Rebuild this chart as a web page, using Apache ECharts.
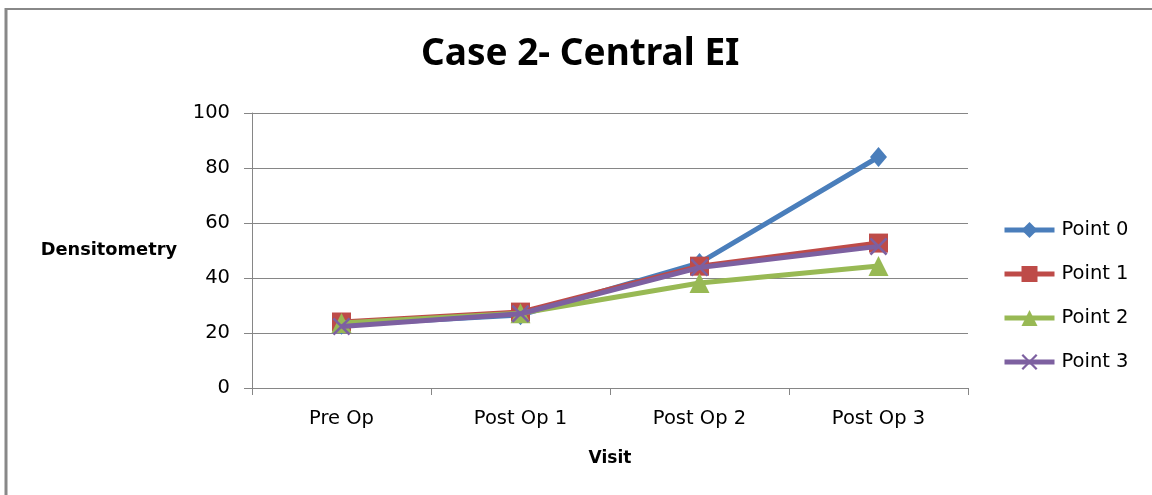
<!DOCTYPE html>
<html>
<head>
<meta charset="utf-8">
<script src="https://cdn.jsdelivr.net/npm/echarts@6/dist/echarts.min.js"></script>
<style>
  html, body { margin: 0; padding: 0; background: #fff; }
  #chart { width: 1152px; height: 495px; }
</style>
</head>
<body>
<div id="chart"></div>
<script>
// Visits along the x axis
const visits = ['Pre Op', 'Post Op 1', 'Post Op 2', 'Post Op 3'];

// Densitometry readings per measurement point
const point0 = [23, 26.5, 45.5, 84];
const point1 = [24, 27.6, 44.3, 52.7];
const point2 = [23.6, 27.2, 38.2, 44.4];
const point3 = [22.4, 27, 43.8, 51.5];

const seriesNames = ['Point 0', 'Point 1', 'Point 2', 'Point 3'];

// y axis range
const yMin = 0, yMax = 100, yStep = 20;

const colors = ['#4A7EBB', '#BE4B48', '#98B954', '#7D60A0'];

// Thin "x" marker as a filled outline
const crossPath = 'path://M0,1 L1,0 L5,4 L9,0 L10,1 L6,5 L10,9 L9,10 L5,6 L1,10 L0,9 L4,5 Z';

const symbols = ['diamond', 'rect', 'triangle', crossPath];
const symbolSizes = [[17, 20], 19, 20, 18];
const dataSets = [point0, point1, point2, point3];

const chart = echarts.init(document.getElementById('chart'));

const tickFont = { fontFamily: 'DejaVu Sans', fontSize: 19.5, color: '#000' };

chart.setOption({
  animation: false,
  backgroundColor: '#fff',
  color: colors,
  title: {
    text: 'Case 2- Central EI',
    left: 416,
    top: 31,
    textStyle: { fontFamily: 'Noto Sans', fontWeight: 'bold', fontSize: 37, color: '#000' }
  },
  legend: {
    orient: 'vertical',
    left: 997,
    top: 215,
    itemWidth: 50,
    itemHeight: 20,
    itemGap: 24,
    data: seriesNames.map((n, i) => ({
      name: n,
      lineStyle: { width: 5, color: colors[i] },
      itemStyle: { color: colors[i] }
    })),
    textStyle: Object.assign({}, tickFont, { lineHeight: 20, padding: [0, 0, 0, 2] })
  },
  grid: { left: 252, right: 184, top: 113, bottom: 107 },
  xAxis: {
    type: 'category',
    data: visits,
    boundaryGap: true,
    name: 'Visit',
    nameLocation: 'middle',
    nameGap: 62,
    nameTextStyle: { fontFamily: 'DejaVu Sans', fontWeight: 'bold', fontSize: 17, color: '#000' },
    axisLine: { lineStyle: { color: '#868686', width: 1 } },
    axisTick: { show: true, alignWithLabel: false, length: 7, lineStyle: { color: '#868686' } },
    axisLabel: Object.assign({ margin: 21 }, tickFont),
    splitLine: { show: false }
  },
  yAxis: {
    type: 'value',
    min: yMin,
    max: yMax,
    interval: yStep,
    name: 'Densitometry',
    nameLocation: 'middle',
    nameRotate: 0,
    nameGap: 75,
    nameTextStyle: { fontFamily: 'DejaVu Sans', fontWeight: 'bold', fontSize: 17.8, color: '#000', align: 'right', verticalAlign: 'middle' },
    axisLine: { show: true, lineStyle: { color: '#868686', width: 1 } },
    axisTick: { show: true, length: 8, lineStyle: { color: '#868686' } },
    axisLabel: Object.assign({ margin: 22 }, tickFont),
    splitLine: { show: true, lineStyle: { color: '#868686', width: 1 } }
  },
  series: dataSets.map((d, i) => ({
    name: seriesNames[i],
    type: 'line',
    data: d,
    symbol: symbols[i],
    symbolSize: symbolSizes[i],
    showAllSymbol: true,
    lineStyle: { width: 5, color: colors[i] },
    itemStyle: { color: colors[i], borderWidth: 0 },
    z: 2 + i
  })),
  graphic: [
    { type: 'line', shape: { x1: 5, y1: 9, x2: 1152, y2: 9 }, style: { stroke: '#888', lineWidth: 2 } },
    { type: 'line', shape: { x1: 6, y1: 8, x2: 6, y2: 495 }, style: { stroke: '#888', lineWidth: 3 } }
  ]
});
</script>
</body>
</html>
